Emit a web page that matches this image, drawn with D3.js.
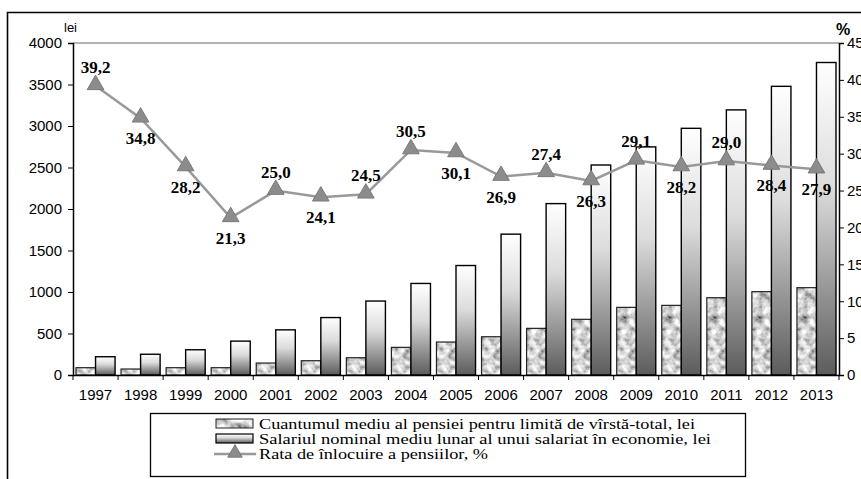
<!DOCTYPE html>
<html>
<head>
<meta charset="utf-8">
<script src="https://cdn.jsdelivr.net/npm/d3@7/dist/d3.min.js"></script>
<style>
  body { margin: 0; background: #fff; }
  svg { display: block; }
</style>
</head>
<body>
<div class="chart-box"></div>
<script>
// data
const years = ["1997", "1998", "1999", "2000", "2001", "2002", "2003", "2004", "2005",
  "2006", "2007", "2008", "2009", "2010", "2011", "2012", "2013"];
const pension = [88, 72, 88, 88, 144, 172, 208, 333, 397, 461, 562, 671, 815, 839, 931, 1004, 1052];
const salary = [220, 250, 304, 408, 544, 692, 891, 1103, 1319, 1697, 2065, 2530, 2748, 2972, 3194, 3478, 3765];
const rate = [39.2, 34.8, 28.2, 21.3, 25.0, 24.1, 24.5, 30.5, 30.1, 26.9, 27.4, 26.3, 29.1, 28.2, 29.0, 28.4, 27.9];
const leftTicks = [0, 500, 1000, 1500, 2000, 2500, 3000, 3500, 4000];
const rightTicks = [0, 5, 10, 15, 20, 25, 30, 35, 40, 45];
// which rate labels sit above their marker
const labelsAbove = ["1997", "2001", "2003", "2004", "2007", "2009", "2011"];
const legendItems = [
  "Cuantumul mediu al pensiei pentru limită de vîrstă-total, lei",
  "Salariul nominal mediu lunar al unui salariat în economie, lei",
  "Rata de înlocuire a pensiilor, %"
];

const W = 861, H = 479;
const plot = {left: 73, right: 839, top: 43, bottom: 375};
const sans = "'Liberation Sans', Arial, sans-serif";
const serif = "'Liberation Serif', 'Times New Roman', serif";

const svg = d3.select(".chart-box").append("svg")
  .attr("width", W)
  .attr("height", H);

const defs = svg.append("defs");

// salary bars: light top, dark bottom
const grad = defs.append("linearGradient")
  .attr("id", "salGrad")
  .attr("x1", 0).attr("y1", 0).attr("x2", 0).attr("y2", 1);
grad.append("stop").attr("offset", "0%").attr("stop-color", "#ffffff");
grad.append("stop").attr("offset", "40%").attr("stop-color", "#dcdcdc");
grad.append("stop").attr("offset", "100%").attr("stop-color", "#5c5c5c");

// pension bars: grey marble texture
const marble = defs.append("filter")
  .attr("id", "marble")
  .attr("x", 0).attr("y", 0).attr("width", 1).attr("height", 1);
marble.append("feTurbulence")
  .attr("type", "fractalNoise")
  .attr("baseFrequency", 0.13)
  .attr("numOctaves", 3)
  .attr("seed", 7)
  .attr("result", "noise");
marble.append("feColorMatrix")
  .attr("in", "noise")
  .attr("type", "matrix")
  .attr("values", "1.6 0 0 0 -0.15  1.6 0 0 0 -0.15  1.6 0 0 0 -0.15  0 0 0 0 1")
  .attr("result", "grey");
marble.append("feComposite")
  .attr("in", "grey")
  .attr("in2", "SourceGraphic")
  .attr("operator", "in");

// outer frame
svg.append("path")
  .attr("d", "M7.5," + (H + 2) + "V12.5H" + (W + 2))
  .attr("fill", "none")
  .attr("stroke", "#000")
  .attr("stroke-width", 1.6);

const x = d3.scaleBand()
  .domain(years)
  .range([plot.left, plot.right]);

const sub = d3.scaleBand()
  .domain(["pension", "salary"])
  .range([3, x.bandwidth() - 3]);

const yL = d3.scaleLinear()
  .domain([0, 4000])
  .range([plot.bottom, plot.top]);

const yR = d3.scaleLinear()
  .domain([0, 45])
  .range([plot.bottom, plot.top]);

// top grid line
svg.append("line")
  .attr("x1", plot.left).attr("x2", plot.right)
  .attr("y1", yL(4000)).attr("y2", yL(4000))
  .attr("stroke", "#9a9a9a")
  .attr("stroke-width", 1.5);

// bars
const rows = years.map((y, i) => ({year: y, pension: pension[i], salary: salary[i]}));

const groups = svg.append("g").selectAll("g")
  .data(rows)
  .enter().append("g")
  .attr("transform", d => "translate(" + x(d.year) + ",0)");

groups.append("rect")
  .attr("x", sub("pension"))
  .attr("y", d => yL(d.pension))
  .attr("width", sub.bandwidth())
  .attr("height", d => yL(0) - yL(d.pension))
  .attr("fill", "#999")
  .attr("filter", "url(#marble)");

groups.append("rect")
  .attr("x", sub("pension"))
  .attr("y", d => yL(d.pension))
  .attr("width", sub.bandwidth())
  .attr("height", d => yL(0) - yL(d.pension))
  .attr("fill", "none")
  .attr("stroke", "#222")
  .attr("stroke-width", 1.2);

groups.append("rect")
  .attr("x", sub("salary"))
  .attr("y", d => yL(d.salary))
  .attr("width", sub.bandwidth())
  .attr("height", d => yL(0) - yL(d.salary))
  .attr("fill", "url(#salGrad)")
  .attr("stroke", "#000")
  .attr("stroke-width", 1.4);

// axes
function styleAxis(g) {
  g.select(".domain").attr("stroke", "#000").attr("stroke-width", 1.5);
  g.selectAll("text")
    .attr("font-family", sans)
    .attr("font-size", 15)
    .attr("fill", "#000");
}

const gL = svg.append("g")
  .attr("transform", "translate(" + plot.left + ",0)")
  .call(d3.axisLeft(yL).tickValues(leftTicks).tickFormat(d3.format("d"))
    .tickSize(5).tickPadding(6));
styleAxis(gL);

const gR = svg.append("g")
  .attr("transform", "translate(" + plot.right + ",0)")
  .call(d3.axisRight(yR).tickValues(rightTicks).tickFormat(d3.format("d"))
    .tickSize(5).tickPadding(3));
styleAxis(gR);

const gB = svg.append("g")
  .attr("transform", "translate(0," + plot.bottom + ")")
  .call(d3.axisBottom(x).tickSize(0).tickPadding(14));
styleAxis(gB);

// category separators on x axis
gB.selectAll(".sep")
  .data(years.concat(["end"]))
  .enter().append("line")
  .attr("class", "sep")
  .attr("x1", (d, i) => plot.left + i * x.step())
  .attr("x2", (d, i) => plot.left + i * x.step())
  .attr("y1", 0).attr("y2", 5)
  .attr("stroke", "#000");

// axis units
svg.append("text")
  .attr("x", 64).attr("y", 32)
  .attr("font-family", sans)
  .attr("font-size", 13)
  .text("lei");

svg.append("text")
  .attr("x", 836).attr("y", 35)
  .attr("font-family", sans)
  .attr("font-size", 16)
  .attr("font-weight", "bold")
  .text("%");

// replacement rate line
const cx = d => x(d) + x.bandwidth() / 2;
const pts = years.map((y, i) => ({year: y, v: rate[i]}));

svg.append("path")
  .datum(pts)
  .attr("fill", "none")
  .attr("stroke", "#999")
  .attr("stroke-width", 2.5)
  .attr("d", d3.line().x(d => cx(d.year)).y(d => yR(d.v)));

const tri = d3.symbol().type(d3.symbolTriangle).size(120);

svg.append("g").selectAll("path")
  .data(pts)
  .enter().append("path")
  .attr("d", tri)
  .attr("transform", d => "translate(" + cx(d.year) + "," + (yR(d.v) - 1) + ")")
  .attr("fill", "#8c8c8c")
  .attr("stroke", "#7a7a7a")
  .attr("stroke-width", 1);

svg.append("g").selectAll("text")
  .data(pts)
  .enter().append("text")
  .attr("x", d => cx(d.year))
  .attr("y", d => labelsAbove.includes(d.year) ? yR(d.v) - 13 : yR(d.v) + 26)
  .attr("text-anchor", "middle")
  .attr("font-family", serif)
  .attr("font-weight", "bold")
  .attr("font-size", 17)
  .text(d => d3.format(".1f")(d.v).replace(".", ","));

// legend
const lg = {left: 150, right: 745, top: 413, bottom: 476, sx: 216, tx: 259};
const legendWidths = [436, 452, 229];

svg.append("rect")
  .attr("x", lg.left + 0.5).attr("y", lg.top + 0.5)
  .attr("width", lg.right - lg.left).attr("height", lg.bottom - lg.top)
  .attr("fill", "#fff")
  .attr("stroke", "#000")
  .attr("stroke-width", 1.3);

const legend = svg.append("g");
const rowY = i => lg.top + 16 + i * 15;

legend.append("rect")
  .attr("x", lg.sx).attr("y", rowY(0) - 10)
  .attr("width", 37).attr("height", 9)
  .attr("fill", "#999")
  .attr("filter", "url(#marble)");
legend.append("rect")
  .attr("x", lg.sx).attr("y", rowY(0) - 10)
  .attr("width", 37).attr("height", 9)
  .attr("fill", "none")
  .attr("stroke", "#222");

legend.append("rect")
  .attr("x", lg.sx).attr("y", rowY(1) - 10)
  .attr("width", 37).attr("height", 9)
  .attr("fill", "url(#salGrad)")
  .attr("stroke", "#000")
  .attr("stroke-width", 1.2);

legend.append("line")
  .attr("x1", lg.sx - 2).attr("x2", lg.sx + 40)
  .attr("y1", rowY(2) - 5).attr("y2", rowY(2) - 5)
  .attr("stroke", "#999")
  .attr("stroke-width", 2.5);
legend.append("path")
  .attr("d", d3.symbol().type(d3.symbolTriangle).size(90))
  .attr("transform", "translate(" + (lg.sx + 19) + "," + (rowY(2) - 6) + ")")
  .attr("fill", "#8c8c8c")
  .attr("stroke", "#7a7a7a");

legend.selectAll("text")
  .data(legendItems)
  .enter().append("text")
  .attr("x", lg.tx)
  .attr("y", (d, i) => rowY(i))
  .attr("font-family", serif)
  .attr("font-size", 15)
  .attr("textLength", (d, i) => legendWidths[i])
  .attr("lengthAdjust", "spacingAndGlyphs")
  .text(d => d);
</script>
</body>
</html>
